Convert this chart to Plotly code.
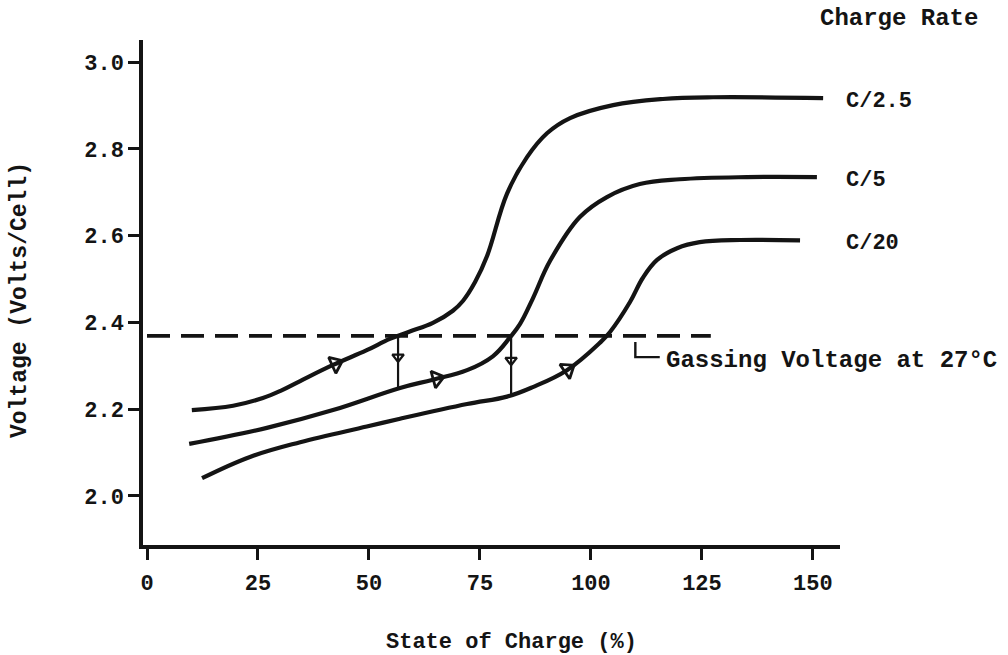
import numpy as np
import plotly.graph_objects as go

# ---- data ----
soc_c25 = [10.1, 19.4, 26.1, 30.2, 34.5, 41.9, 49.5, 54.7, 59.2, 64.4, 68.9, 71.2, 73.9, 76.6,
           81.1, 85.6, 90.1, 95.3, 105.0, 116.2, 127.5, 152.3]
v_c25 = [2.198, 2.208, 2.226, 2.243, 2.265, 2.302, 2.336, 2.362, 2.379, 2.399, 2.427, 2.450, 2.493, 2.553,
         2.697, 2.781, 2.836, 2.871, 2.901, 2.915, 2.919, 2.917]

soc_c5 = [9.5, 27.0, 41.9, 57.0, 64.4, 72.1, 77.9, 81.8, 84.0, 86.9, 90.8, 97.5,
          103.6, 111.0, 120.0, 135.1, 150.9]
v_c5 = [2.120, 2.157, 2.198, 2.249, 2.268, 2.290, 2.322, 2.366, 2.396, 2.455, 2.542, 2.643,
        2.689, 2.719, 2.730, 2.735, 2.735]

soc_c20 = [12.4, 23.2, 34.5, 49.5, 57.0, 72.1, 81.1, 86.9, 94.6, 102.0, 104.3, 108.8,
           111.7, 114.9, 119.4, 124.5, 133.6, 147.1]
v_c20 = [2.041, 2.090, 2.124, 2.160, 2.178, 2.212, 2.229, 2.251, 2.290, 2.353, 2.378, 2.447,
         2.503, 2.544, 2.571, 2.585, 2.590, 2.589]

rate_labels = ["C/2.5", "C/5", "C/20"]
gassing_voltage = 2.369
gassing_line_soc = [0, 127]
arrow_soc = [42.5, 65.3, 94.8]          # open arrows along the curves
x_ticks = [0, 25, 50, 75, 100, 125, 150]
y_ticks = [2.0, 2.2, 2.4, 2.6, 2.8, 3.0]

# ---- layout geometry ----
W, H = 1008, 655
ML, MR, MT, MB = 143, 168, 40, 110
XR = [-0.9, 156.1]
YR = [1.887, 3.051]
pw, ph = W - ML - MR, H - MT - MB
px_x = pw / (XR[1] - XR[0])
px_y = ph / (YR[1] - YR[0])

INK = "#141414"
FONT = "Liberation Mono"

curves = [(soc_c25, v_c25), (soc_c5, v_c5), (soc_c20, v_c20)]

fig = go.Figure()

for (s, v), name in zip(curves, rate_labels):
    fig.add_trace(go.Scatter(x=s, y=v, mode="lines", name=name,
                             line=dict(color=INK, width=4.2, shape="spline", smoothing=1.1),
                             showlegend=False, hoverinfo="skip"))

# gassing voltage dashed line
fig.add_trace(go.Scatter(x=gassing_line_soc, y=[gassing_voltage] * 2, mode="lines",
                         line=dict(color=INK, width=3.8, dash="23px,11px"),
                         showlegend=False, hoverinfo="skip"))

# open arrows along curves
for (s, v), a in zip(curves, arrow_soc):
    ya = float(np.interp(a, s, v))
    slope = (np.interp(a + 2, s, v) - np.interp(a - 2, s, v)) / 4.0
    ang = -np.degrees(np.arctan(slope * px_y / px_x))
    fig.add_trace(go.Scatter(x=[a], y=[ya], mode="markers",
                             marker=dict(symbol="triangle-right-open", size=15, angle=ang,
                                         color=INK, line=dict(color=INK, width=2.8)),
                             showlegend=False, hoverinfo="skip"))

# vertical drop arrows: from gassing crossing of one curve down to the next curve
for (s_hi, v_hi), (s_lo, v_lo) in [(curves[0], curves[1]), (curves[1], curves[2])]:
    k = int(np.argmax(v_hi)) + 1
    xc = float(np.interp(gassing_voltage, v_hi[:k], s_hi[:k]))
    y_lo = float(np.interp(xc, s_lo, v_lo))
    fig.add_trace(go.Scatter(x=[xc, xc], y=[gassing_voltage, y_lo], mode="lines",
                             line=dict(color=INK, width=2.2),
                             showlegend=False, hoverinfo="skip"))
    ymid = gassing_voltage - 0.5 * (gassing_voltage - y_lo) + 0.012
    fig.add_trace(go.Scatter(x=[xc], y=[ymid], mode="markers",
                             marker=dict(symbol="triangle-down-open", size=10,
                                         color=INK, line=dict(color=INK, width=2.2)),
                             showlegend=False, hoverinfo="skip"))

# hook for the gassing voltage label
hook_x = 110
fig.add_trace(go.Scatter(x=[hook_x, hook_x, hook_x + 5.5],
                         y=[gassing_voltage - 0.014, gassing_voltage - 0.049, gassing_voltage - 0.049],
                         mode="lines", line=dict(color=INK, width=2.4),
                         showlegend=False, hoverinfo="skip"))

tfont = dict(family=FONT, size=22, color=INK, weight="bold")

annotations = []
for (s, v), name in zip(curves, rate_labels):
    annotations.append(dict(x=1.006, xref="paper", y=v[-1] - 0.008, yref="y", text=name,
                            showarrow=False, xanchor="left", yanchor="middle",
                            font=dict(family=FONT, size=22, color=INK, weight="bold")))
annotations.append(dict(x=1.084, xref="paper", y=1.042, yref="paper", text="Charge Rate",
                        showarrow=False, xanchor="center", yanchor="middle",
                        font=dict(family=FONT, size=24, color=INK, weight="bold")))
annotations.append(dict(x=hook_x + 6.5, xref="x", y=gassing_voltage - 0.057, yref="y",
                        text="Gassing Voltage at 27°C", showarrow=False,
                        xanchor="left", yanchor="middle",
                        font=dict(family=FONT, size=24, color=INK, weight="bold")))
# axis titles
annotations.append(dict(x=0.528, xref="paper", y=-0.194, yref="paper",
                        text="State of Charge (%)", showarrow=False,
                        xanchor="center", yanchor="middle",
                        font=dict(family=FONT, size=22, color=INK, weight="bold")))
annotations.append(dict(x=-0.1765, xref="paper", y=0.485, yref="paper",
                        text="Voltage (Volts/Cell)", showarrow=False, textangle=-90,
                        xanchor="center", yanchor="middle",
                        font=dict(family=FONT, size=23, color=INK, weight="bold")))

fig.update_layout(
    width=W, height=H,
    margin=dict(l=ML, r=MR, t=MT, b=MB, autoexpand=False),
    paper_bgcolor="white", plot_bgcolor="white",
    annotations=annotations,
    xaxis=dict(range=XR, tickvals=x_ticks, ticktext=[str(t) for t in x_ticks],
               showgrid=False, zeroline=False, showline=True, linecolor=INK, linewidth=3.5,
               ticks="outside", ticklen=11, tickwidth=2.5, tickcolor=INK,
               tickfont=tfont, ticklabelstandoff=4, automargin=False),
    yaxis=dict(range=YR, tickvals=y_ticks, ticktext=[f"{t:.1f}" for t in y_ticks],
               showgrid=False, zeroline=False, showline=True, linecolor=INK, linewidth=3.5,
               ticks="outside", ticklen=11, tickwidth=2.5, tickcolor=INK,
               tickfont=tfont, ticklabelstandoff=0, automargin=False),
)

fig.write_html("out.html")
